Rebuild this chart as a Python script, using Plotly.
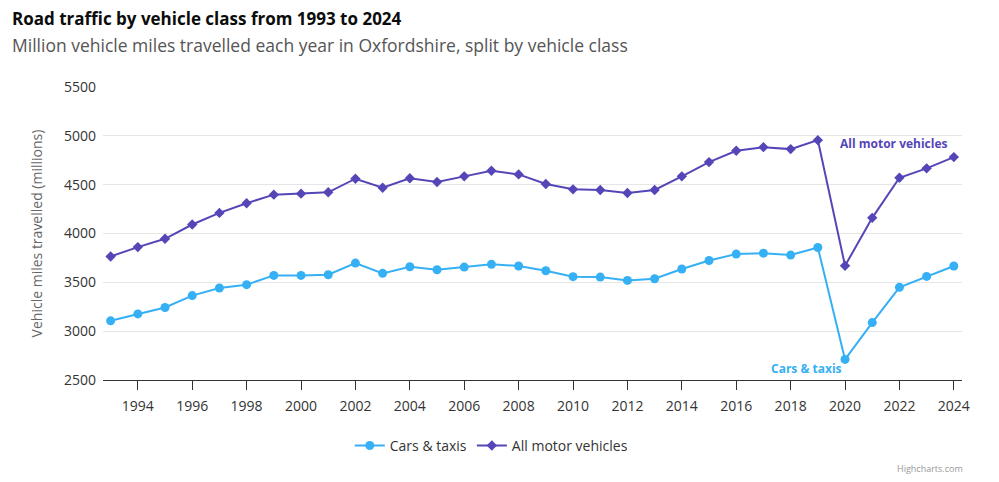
import plotly.graph_objects as go

# data (million vehicle miles, Oxfordshire)
years = list(range(1993, 2025))
cars_taxis = [3106, 3177, 3242, 3364, 3442, 3476, 3571, 3571, 3578, 3697,
              3592, 3660, 3629, 3656, 3684, 3667, 3619, 3558, 3554, 3520,
              3537, 3636, 3724, 3789, 3799, 3779, 3857, 2711, 3088, 3449,
              3561, 3667]
all_motor = [3765, 3861, 3946, 4092, 4211, 4310, 4398, 4408, 4422, 4561,
             4469, 4565, 4527, 4585, 4643, 4605, 4507, 4452, 4446, 4415,
             4446, 4585, 4731, 4847, 4884, 4864, 4956, 3670, 4160, 4571,
             4667, 4782]
x_ticks = list(range(1994, 2025, 2))

blue = "#36b0f5"
purple = "#5546b8"
font = "Open Sans, Noto Sans, sans-serif"

fig = go.Figure()
fig.add_trace(go.Scatter(x=years, y=cars_taxis, mode="lines+markers", name="Cars & taxis",
                         line=dict(color=blue, width=2),
                         marker=dict(symbol="circle", size=9, color=blue)))
fig.add_trace(go.Scatter(x=years, y=all_motor, mode="lines+markers", name="All motor vehicles",
                         line=dict(color=purple, width=2),
                         marker=dict(symbol="diamond", size=8, color=purple)))

# title + subtitle as annotations so they sit exactly where the reference has them
fig.add_annotation(x=0, y=1, xref="paper", yref="paper", xanchor="left", yanchor="middle",
                   xshift=-93, yshift=69, showarrow=False,
                   text="<b>Road traffic by vehicle class from 1993 to 2024</b>",
                   font=dict(size=17, color="#0b0c0c", family=font))
fig.add_annotation(x=0, y=1, xref="paper", yref="paper", xanchor="left", yanchor="middle",
                   xshift=-93, yshift=42, showarrow=False,
                   text="Million vehicle miles travelled each year in Oxfordshire, split by vehicle class",
                   font=dict(size=17.5, color="#555555", family=font))

# series labels placed near the final points
fig.add_annotation(x=2021.8, y=4920, text="<b>All motor vehicles</b>", showarrow=False,
                   font=dict(color=purple, size=12, family=font))
fig.add_annotation(x=2018.6, y=2615, text="<b>Cars & taxis</b>", showarrow=False,
                   font=dict(color=blue, size=12, family=font))
fig.add_annotation(x=1, y=0, xref="paper", yref="paper", yshift=-97, xshift=3, xanchor="right",
                   text="Highcharts.com", showarrow=False,
                   font=dict(color="#999999", size=9, family=font))

fig.update_layout(
    width=991, height=474,
    paper_bgcolor="white", plot_bgcolor="white",
    margin=dict(l=95, r=37, t=79, b=102),
    font=dict(family=font, color="#333333"),
    showlegend=True,
    legend=dict(orientation="h", x=0.452, xanchor="center", y=-0.225, yanchor="middle",
                font=dict(size=14, color="#333333")),
    xaxis=dict(range=[1992.72, 2024.3], tickvals=x_ticks, showgrid=False,
               showline=True, linecolor="#333333", linewidth=1,
               ticks="outside", ticklen=9, tickcolor="#333333", ticklabelstandoff=4,
               tickfont=dict(size=14, color="#333333"), zeroline=False),
    yaxis=dict(range=[2500, 5500], dtick=500, gridcolor="#e6e6e6", zeroline=False,
               tickfont=dict(size=14, color="#333333"), ticklabelstandoff=6,
               title=dict(text="Vehicle miles travelled (millions)", standoff=18,
                          font=dict(size=14, color="#666666"))),
)

fig.write_html("out.html")
